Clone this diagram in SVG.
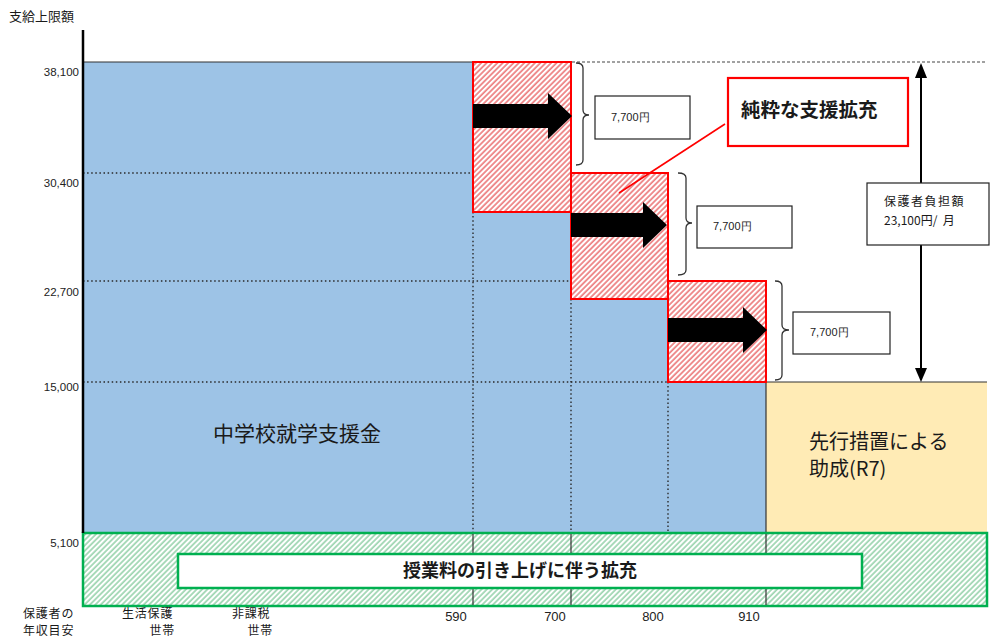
<svg xmlns="http://www.w3.org/2000/svg" width="991" height="639" viewBox="0 0 991 639">
<defs>
<pattern id="hatchR" width="3.8" height="3.8" patternUnits="userSpaceOnUse" patternTransform="rotate(45)">
<rect width="3.8" height="3.8" fill="#fff"/>
<line x1="1" y1="0" x2="1" y2="3.8" stroke="#E5484B" stroke-width="1.2"/>
</pattern>
<pattern id="hatchG" width="3.8" height="3.8" patternUnits="userSpaceOnUse" patternTransform="rotate(45)">
<rect width="3.8" height="3.8" fill="#fff"/>
<line x1="1" y1="0" x2="1" y2="3.8" stroke="#74C490" stroke-width="1.2"/>
</pattern>
</defs>
<style>
.jp{font-family:"Noto Sans CJK JP","Noto Sans",sans-serif;fill:#1a1a1a}
.num{font-family:"Liberation Sans",Arial,sans-serif;fill:#222}
.dot{stroke:#2a2a2a;stroke-width:1.4;stroke-dasharray:1.5 2.6;fill:none}
.solid{stroke:#333;stroke-width:1.2;fill:none}
.red{fill:url(#hatchR);stroke:#FF0000;stroke-width:2}
.box{fill:#fff;stroke:#222;stroke-width:1.2}
.brace{fill:none;stroke:#333;stroke-width:1.3}
</style>

<g id="background-regions">
<path d="M83,62 L571,62 L571,173 L668,173 L668,281 L766,281 L766,533 L83,533 Z" fill="#9DC3E6"/>
<rect id="yellow" x="766" y="382" width="221" height="151" fill="#FFEBB5"/>
</g>

<g id="gridlines">
<line class="dot" x1="83" y1="173" x2="571" y2="173"/>
<line class="dot" x1="83" y1="281" x2="668" y2="281"/>
<line class="dot" x1="83" y1="382" x2="766" y2="382"/>
<line class="dot" x1="473" y1="212" x2="473" y2="533"/>
<line class="dot" x1="571" y1="299" x2="571" y2="533"/>
<line class="dot" x1="668" y1="382" x2="668" y2="533"/>
<line x1="572" y1="62" x2="986" y2="62" stroke="#444" stroke-width="1.2" stroke-dasharray="3 2"/>
<line class="solid" x1="83" y1="62" x2="473" y2="62" stroke-width="1.5"/>
<line class="solid" x1="766" y1="382" x2="987" y2="382" stroke-width="1.5"/>
<line class="solid" x1="766" y1="382" x2="766" y2="533"/>
</g>

<g id="red-blocks">
<rect class="red" x="473" y="62" width="98" height="150"/>
<rect class="red" x="571" y="173" width="97" height="126"/>
<rect class="red" x="668" y="281" width="98" height="101"/>
</g>

<g id="green-band">
<rect x="83" y="533" width="904" height="73" fill="url(#hatchG)" stroke="#00B050" stroke-width="2.5"/>
<line class="solid" x1="473" y1="534" x2="473" y2="605"/>
<line class="solid" x1="571" y1="534" x2="571" y2="605"/>
<line class="solid" x1="766" y1="534" x2="766" y2="605"/>
<g id="node-tuition">
<rect x="178" y="554" width="684" height="34" fill="#fff" stroke="#00B050" stroke-width="2.5"/>
<text class="jp" x="520" y="577" font-size="18" font-weight="bold" text-anchor="middle">授業料の引き上げに伴う拡充</text>
</g>
</g>

<g id="axis">
<line x1="83" y1="30" x2="83" y2="533" stroke="#000" stroke-width="2.5"/>
<text class="jp" x="9" y="21" font-size="13">支給上限額</text>
<g class="num" font-size="11.5" text-anchor="end">
<text x="79" y="76">38,100</text>
<text x="79" y="187">30,400</text>
<text x="79" y="296">22,700</text>
<text x="79" y="391">15,000</text>
<text x="79" y="547">5,100</text>
</g>
<g class="num" font-size="13" text-anchor="middle">
<text x="456" y="621">590</text>
<text x="555" y="621">700</text>
<text x="653" y="621">800</text>
<text x="749" y="621">910</text>
</g>
<g class="jp" font-size="12" letter-spacing="0.8">
<text x="23" y="618">保護者の</text>
<text x="23" y="635">年収目安</text>
<text x="122" y="618">生活保護</text>
<text x="175" y="635" text-anchor="end">世帯</text>
<text x="232" y="618">非課税</text>
<text x="273" y="635" text-anchor="end">世帯</text>
</g>
</g>

<g id="node-shugaku">
<text class="jp" x="213" y="441" font-size="21">中学校就学支援金</text>
</g>

<g id="node-senko">
<text class="jp" x="809" y="449" font-size="20">先行措置による</text>
<text class="jp" x="809" y="476" font-size="20">助成(R7)</text>
</g>

<g id="arrows-black">
<path d="M473,104 L548,104 L548,93 L572,116 L548,139 L548,128 L473,128 Z" fill="#000"/>
<path d="M571,213 L643,213 L643,202 L667,225 L643,248 L643,237 L571,237 Z" fill="#000"/>
<path d="M668,318 L743,318 L743,307 L767,330 L743,353 L743,342 L668,342 Z" fill="#000"/>
</g>

<g id="braces">
<path class="brace" d="M576,63 Q583,63 583,68 L583,110 Q583,115 589,115 Q583,115 583,120 L583,160 Q583,165 576,165"/>
<path class="brace" d="M678,173 Q686,173 686,178 L686,218 Q686,223 692,223 Q686,223 686,228 L686,270 Q686,275 678,275"/>
<path class="brace" d="M775,281 Q782,281 782,286 L782,325 Q782,330 789,330 Q782,330 782,335 L782,375 Q782,380 775,380"/>
</g>

<g id="node-amt1">
<rect class="box" x="595" y="96" width="95" height="43"/>
<text class="num" x="611" y="121" font-size="11">7,700円</text>
</g>
<g id="node-amt2">
<rect class="box" x="697" y="206" width="95" height="42"/>
<text class="num" x="713" y="230" font-size="11">7,700円</text>
</g>
<g id="node-amt3">
<rect class="box" x="793" y="312" width="97" height="42"/>
<text class="num" x="810" y="336" font-size="11">7,700円</text>
</g>

<g id="connectors">
<line x1="725" y1="124" x2="619" y2="193" stroke="#FF0000" stroke-width="1.6"/>
<line x1="921" y1="76" x2="921" y2="370" stroke="#000" stroke-width="2"/>
<path d="M921,63 L915,78 L927,78 Z" fill="#000"/>
<path d="M921,382 L915,368 L927,368 Z" fill="#000"/>
</g>

<g id="node-pure">
<rect x="728" y="78" width="180" height="68" fill="#fff" stroke="#FF0000" stroke-width="2.2"/>
<text class="jp" x="741" y="117" font-size="19.5" font-weight="bold">純粋な支援拡充</text>
</g>

<g id="node-burden">
<rect class="box" x="867" y="183" width="122" height="62"/>
<text class="jp" x="884" y="206" font-size="12" letter-spacing="1.5">保護者負担額</text>
<text class="jp" x="884" y="225" font-size="12" xml:space="preserve">23,100円/  月</text>
</g>
</svg>
